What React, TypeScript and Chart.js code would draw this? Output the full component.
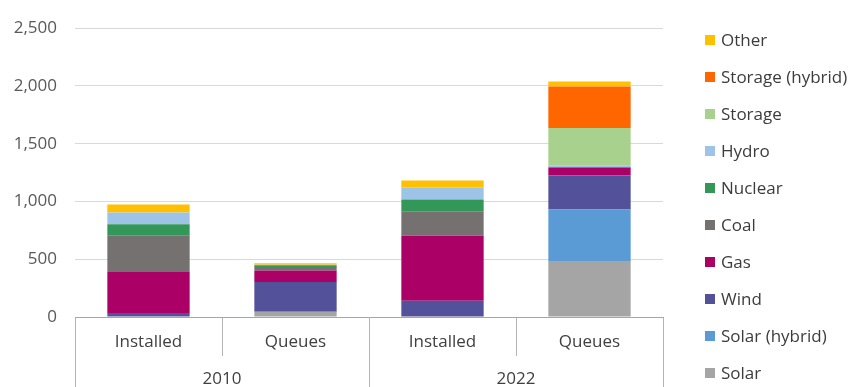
import React, { useEffect, useRef } from "react";
import { Chart, registerables } from "chart.js";

Chart.register(...registerables);

// Bar categories and their year groups
const categories = ["Installed", "Queues", "Installed", "Queues"];
const years = ["2010", "2022"];

// Capacity (GW) per technology, in category order
const solar = [0, 46, 0, 485];
const solarHybrid = [0, 0, 0, 446];
const wind = [35, 256, 140, 293];
const gas = [355, 100, 564, 69];
const coal = [314, 23, 207, 0];
const nuclear = [98, 23, 106, 5];
const hydro = [103, 5, 104, 12];
const storage = [0, 0, 0, 327];
const storageHybrid = [0, 0, 0, 359];
const other = [69, 12, 60, 43];

const yTicks = [0, 500, 1000, 1500, 2000, 2500];

const FONT = '"Open Sans", "Noto Sans", sans-serif';

// Legend drawn on the right side, top entry = top of the stack
const sideLegend = {
  id: "sideLegend",
  afterDraw(chart: any) {
    const { ctx, chartArea } = chart;
    const items = chart.data.datasets
      .map((d: any) => ({ label: d.label, color: d.backgroundColor }))
      .reverse();
    const boxX = chartArea.right + 42;
    const top = 40;
    const step = 37;
    ctx.save();
    ctx.font = `17px ${FONT}`;
    ctx.textBaseline = "middle";
    ctx.textAlign = "left";
    items.forEach((it: any, i: number) => {
      const y = top + i * step;
      ctx.fillStyle = it.color;
      ctx.fillRect(boxX, y - 5, 10, 10);
      ctx.fillStyle = "#3c3c3c";
      ctx.fillText(it.label, boxX + 16, y + 1);
    });
    ctx.restore();
  },
};

export default function App() {
  const canvasRef = useRef<HTMLCanvasElement | null>(null);

  useEffect(() => {
    const canvas = canvasRef.current;
    if (!canvas) return;

    const series = [
      { label: "Solar", data: solar, color: "#a5a5a5" },
      { label: "Solar (hybrid)", data: solarHybrid, color: "#5b9bd5" },
      { label: "Wind", data: wind, color: "#525199" },
      { label: "Gas", data: gas, color: "#ab0066" },
      { label: "Coal", data: coal, color: "#767171" },
      { label: "Nuclear", data: nuclear, color: "#34975a" },
      { label: "Hydro", data: hydro, color: "#9dc3e6" },
      { label: "Storage", data: storage, color: "#a9d18e" },
      { label: "Storage (hybrid)", data: storageHybrid, color: "#ff6600" },
      { label: "Other", data: other, color: "#ffc000" },
    ];

    const chart = new Chart(canvas, {
      type: "bar",
      data: {
        labels: categories,
        datasets: series.map((s) => ({
          label: s.label,
          data: s.data,
          backgroundColor: s.color,
          borderWidth: 0,
          categoryPercentage: 1,
          barPercentage: 0.56,
        })),
      },
      options: {
        animation: false,
        responsive: false,
        maintainAspectRatio: false,
        layout: { padding: { left: 0, right: 190, top: 27, bottom: 70 } },
        plugins: {
          legend: { display: false },
          tooltip: { enabled: false },
        },
        scales: {
          // Category row (Installed / Queues), hung from the zero line
          x: {
            type: "category",
            position: { y: 0 },
            stacked: true,
            offset: true,
            grid: {
              offset: true,
              drawOnChartArea: false,
              drawTicks: true,
              tickLength: 38,
              color: "#b4b4b4",
            },
            border: { display: true, color: "#a6a6a6" },
            ticks: {
              padding: -23,
              color: "#404040",
              font: { family: FONT, size: 17 },
              maxRotation: 0,
              autoSkip: false,
            },
          },
          // Year row, spanning two categories each
          x2: {
            type: "category",
            axis: "x",
            position: { y: 0 },
            labels: years,
            offset: true,
            grid: {
              offset: true,
              drawOnChartArea: false,
              drawTicks: true,
              tickLength: 72,
              color: "#b4b4b4",
            },
            border: { display: false },
            ticks: {
              padding: -20,
              color: "#404040",
              font: { family: FONT, size: 17 },
              maxRotation: 0,
              autoSkip: false,
            },
          },
          y: {
            stacked: true,
            min: 0,
            max: 2500,
            afterBuildTicks: (s: any) => {
              s.ticks = yTicks.map((v) => ({ value: v }));
            },
            grid: { color: "#d9d9d9", drawTicks: false },
            border: { display: false },
            ticks: {
              padding: 18,
              color: "#595959",
              font: { family: FONT, size: 17 },
              callback: (v: any) => Number(v).toLocaleString("en-US"),
            },
            afterFit: (s: any) => {
              s.width = 75;
            },
          },
        },
      },
      plugins: [sideLegend],
    });

    return () => chart.destroy();
  }, []);

  return (
    <div style={{ position: "fixed", left: 0, top: 0, width: 853, height: 387, background: "#fff" }}>
      <canvas ref={canvasRef} width={853} height={387} style={{ display: "block" }} />
    </div>
  );
}
